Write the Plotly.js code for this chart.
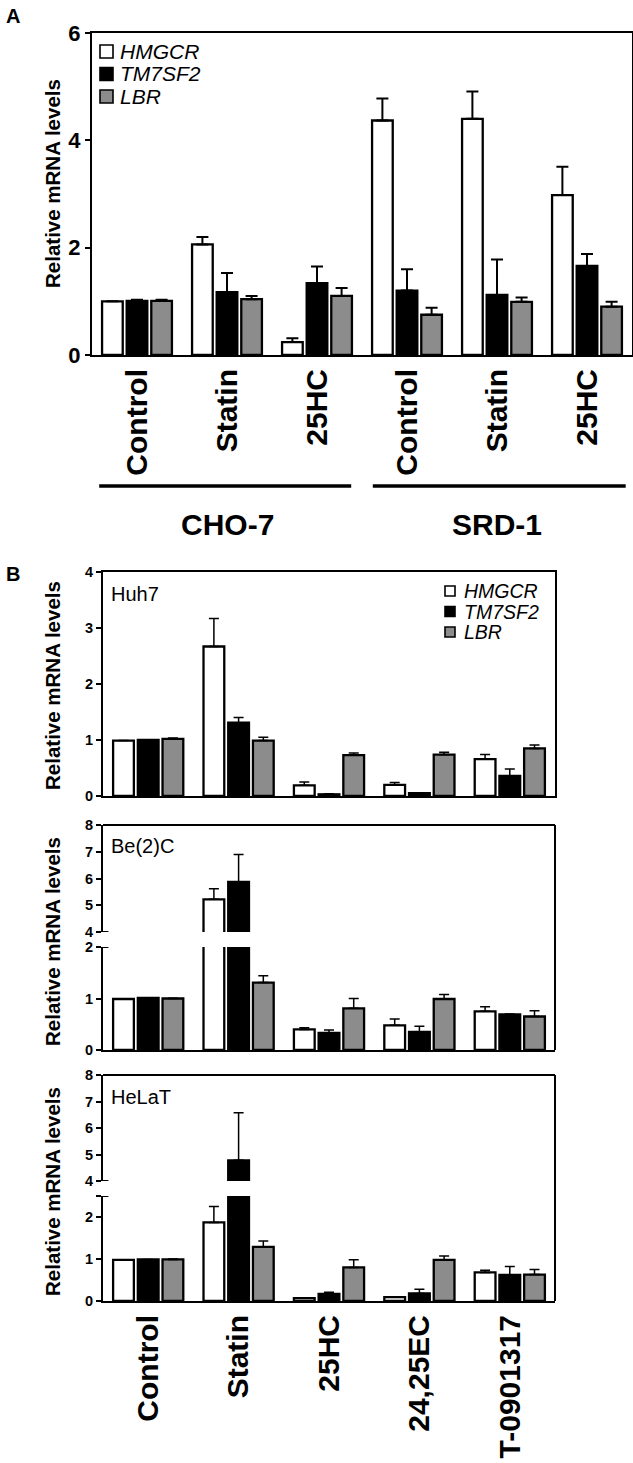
<!DOCTYPE html>
<html><head><meta charset="utf-8">
<script src="https://cdn.plot.ly/plotly-3.0.1.min.js"></script>
<style>html,body{margin:0;padding:0;background:#fff;}#chart{width:633px;height:1463px;}</style>
</head><body><div id="chart"></div>
<script>
// ---------- DATA ----------
const genes = ['HMGCR', 'TM7SF2', 'LBR'];
const geneColors = ['#ffffff', '#000000', '#8c8c8c'];

// Panel A
const cellLinesA = ['CHO-7', 'SRD-1'];
const treatmentsA = ['Control', 'Statin', '25HC'];
const aHMGCR = [1.00, 2.06, 0.24, 4.37, 4.40, 2.98];
const aHMGCRerr = [0.00, 0.14, 0.07, 0.41, 0.51, 0.53];
const aTM7SF2 = [1.01, 1.17, 1.34, 1.20, 1.12, 1.66];
const aTM7SF2err = [0.02, 0.36, 0.31, 0.40, 0.66, 0.22];
const aLBR = [1.01, 1.04, 1.10, 0.75, 0.99, 0.90];
const aLBRerr = [0.02, 0.06, 0.15, 0.13, 0.08, 0.09];

// Panel B
const treatmentsB = ['Control', 'Statin', '25HC', '24,25EC', 'T-0901317'];
const cellLinesB = ['Huh7', 'Be(2)C', 'HeLaT'];
const huhHMGCR = [0.99, 2.67, 0.19, 0.20, 0.66];
const huhHMGCRerr = [0.00, 0.50, 0.06, 0.04, 0.08];
const huhTM7SF2 = [1.00, 1.31, 0.03, 0.05, 0.36];
const huhTM7SF2err = [0.00, 0.09, 0.01, 0.01, 0.12];
const huhLBR = [1.02, 0.99, 0.73, 0.74, 0.85];
const huhLBRerr = [0.015, 0.06, 0.04, 0.04, 0.06];

const beHMGCR = [0.99, 5.22, 0.40, 0.48, 0.75];
const beHMGCRerr = [0.00, 0.40, 0.03, 0.12, 0.09];
const beTM7SF2 = [1.01, 5.87, 0.33, 0.35, 0.69];
const beTM7SF2err = [0.005, 1.03, 0.06, 0.11, 0.01];
const beLBR = [1.00, 1.31, 0.81, 0.99, 0.65];
const beLBRerr = [0.005, 0.13, 0.19, 0.09, 0.11];

const helaHMGCR = [0.98, 1.87, 0.07, 0.09, 0.68];
const helaHMGCRerr = [0.00, 0.38, 0.01, 0.01, 0.05];
const helaTM7SF2 = [0.99, 4.78, 0.17, 0.18, 0.62];
const helaTM7SF2err = [0.00, 1.80, 0.04, 0.10, 0.20];
const helaLBR = [0.99, 1.29, 0.80, 0.98, 0.63];
const helaLBRerr = [0.01, 0.14, 0.18, 0.09, 0.12];

// ---------- LAYOUT HELPERS ----------
const W = 633, H = 1463;
const px = v => v / W;
const py = v => 1 - v / H;
const FONT = 'Liberation Sans, Arial, Helvetica, sans-serif';

const labelsA = cellLinesA.flatMap(() => treatmentsA);
const idxA = labelsA.map((_, i) => i);
const idxB = treatmentsB.map((_, i) => i);

function zeros(n) { return new Array(n).fill(0); }

function barTrace(xs, ys, errs, gi, xa, ya, capW, thick) {
  return {
    type: 'bar', x: xs, y: ys, name: genes[gi],
    xaxis: xa, yaxis: ya, showlegend: false,
    marker: { color: geneColors[gi], line: { color: '#000', width: 2.3 } },
    error_y: { type: 'data', symmetric: false, array: errs, arrayminus: zeros(errs.length),
               color: '#000', thickness: thick, width: capW },
    hoverinfo: 'skip'
  };
}

const data = [];
const aSets = [[aHMGCR, aHMGCRerr], [aTM7SF2, aTM7SF2err], [aLBR, aLBRerr]];
aSets.forEach((s, g) => data.push(barTrace(idxA, s[0], s[1], g, 'x', 'y', 6, 2)));

const huhSets = [[huhHMGCR, huhHMGCRerr], [huhTM7SF2, huhTM7SF2err], [huhLBR, huhLBRerr]];
huhSets.forEach((s, g) => data.push(barTrace(idxB, s[0], s[1], g, 'x2', 'y2', 5, 1.5)));

const beSets = [[beHMGCR, beHMGCRerr], [beTM7SF2, beTM7SF2err], [beLBR, beLBRerr]];
beSets.forEach((s, g) => data.push(barTrace(idxB, s[0], s[1], g, 'x3', 'y3', 5, 1.5)));
beSets.forEach((s, g) => data.push(barTrace(idxB, s[0], s[1], g, 'x3', 'y4', 5, 1.5)));

const helaSets = [[helaHMGCR, helaHMGCRerr], [helaTM7SF2, helaTM7SF2err], [helaLBR, helaLBRerr]];
helaSets.forEach((s, g) => data.push(barTrace(idxB, s[0], s[1], g, 'x4', 'y5', 5, 1.5)));
helaSets.forEach((s, g) => data.push(barTrace(idxB, s[0], s[1], g, 'x4', 'y6', 5, 1.5)));

// pixel geometry of panels
const A = { l: 92, r: 632, t: 33, b: 355 };
const B = { l: 103, r: 555 };
const HUH = { t: 572, b: 796 };
const BE = { lowB: 1050, lowT: 947, upB: 932, upT: 825 };
const HE = { lowB: 1301, lowT: 1196, upB: 1181, upT: 1075 };

const tickFontA = { family: FONT, size: 22, color: '#000', weight: 700 };
const tickFontB = { family: FONT, size: 14.5, color: '#000', weight: 700 };
const catFont = { family: FONT, size: 30, color: '#000', weight: 700 };

function yAx(domain, range, tickvals, ticktext, font, anchor, mirror) {
  return {
    domain: domain, range: range, anchor: anchor, tickvals: tickvals,
    ticktext: ticktext.map(t => t ? '<b>' + t + '</b>' : ''),
    ticks: 'outside', ticklen: 5, tickwidth: 2, tickcolor: '#000',
    showline: true, linewidth: 2, linecolor: '#000', mirror: mirror,
    showgrid: false, zeroline: false, tickfont: font, fixedrange: true
  };
}
function xAx(domain, range, anchor, tickvals, ticktext, showlabels, mirror) {
  return {
    domain: domain, range: range, anchor: anchor, tickvals: tickvals, ticktext: ticktext,
    showticklabels: showlabels, tickangle: -90, tickfont: catFont, ticks: '',
    showline: true, linewidth: 2, linecolor: '#000', mirror: mirror,
    showgrid: false, zeroline: false, fixedrange: true
  };
}

const domXA = [px(A.l), px(A.r)];
const domXB = [px(B.l), px(B.r)];

function breakMark(xref, yref, yv) {
  return { type: 'line', xref: xref + ' domain', yref: yref, x0: -0.012, x1: 0.012, y0: yv, y1: yv, line: { color: '#000', width: 2 } };
}

// custom legends (icon box + italic label)
function legendItems(x0, yc, step, size, fontSize, textGap) {
  const shapes = [], anns = [];
  genes.forEach((g, i) => {
    const cy = yc + i * step;
    shapes.push({ type: 'rect', xref: 'paper', yref: 'paper',
      x0: px(x0), x1: px(x0 + size), y0: py(cy + size / 2), y1: py(cy - size / 2),
      fillcolor: geneColors[i], line: { color: '#000', width: 1.6 } });
    anns.push({ text: '<i>' + g + '</i>', xref: 'paper', yref: 'paper',
      x: px(x0 + size + textGap), y: py(cy), xanchor: 'left', yanchor: 'middle',
      showarrow: false, font: { family: FONT, size: fontSize, color: '#000' } });
  });
  return { shapes, anns };
}
const legA = legendItems(100, 51.5, 22.5, 13, 21, 5);
const legB = legendItems(445, 591, 20.5, 10, 19.5, 7);

const layout = {
  width: W, height: H,
  margin: { l: 0, r: 0, t: 0, b: 0 },
  paper_bgcolor: '#fff', plot_bgcolor: 'rgba(0,0,0,0)',
  font: { family: FONT, color: '#000' },
  showlegend: false,
  barmode: 'group', bargap: 0.18, bargroupgap: 0.16,
  xaxis: xAx(domXA, [-0.5, 5.5], 'y', idxA, labelsA, true, true),
  yaxis: yAx([py(A.b), py(A.t)], [0, 6], [0, 2, 4, 6], ['0', '2', '4', '6'], tickFontA, 'x', true),
  xaxis2: xAx(domXB, [-0.5, 4.5], 'y2', idxB, treatmentsB, false, true),
  yaxis2: yAx([py(HUH.b), py(HUH.t)], [0, 4], [0, 1, 2, 3, 4], ['0', '1', '2', '3', '4'], tickFontB, 'x2', true),
  xaxis3: xAx(domXB, [-0.5, 4.5], 'y3', idxB, treatmentsB, false, false),
  yaxis3: yAx([py(BE.lowB), py(BE.lowT)], [0, 2], [0, 1, 2], ['0', '1', '2'], tickFontB, 'x3', false),
  yaxis4: yAx([py(BE.upB), py(BE.upT)], [4, 8], [4, 5, 6, 7, 8], ['4', '5', '6', '7', '8'], tickFontB, 'x3', false),
  xaxis4: xAx(domXB, [-0.5, 4.5], 'y5', idxB, treatmentsB, true, false),
  yaxis5: yAx([py(HE.lowB), py(HE.lowT)], [0, 2.5], [0, 1, 2, 2.5], ['0', '1', '2', ''], tickFontB, 'x4', false),
  yaxis6: yAx([py(HE.upB), py(HE.upT)], [4, 8], [4, 5, 6, 7, 8], ['4', '5', '6', '7', '8'], tickFontB, 'x4', false),
  shapes: [
    // group underlines in panel A
    { type: 'line', xref: 'x', yref: 'paper', x0: -0.42, x1: 2.38, y0: py(486), y1: py(486), line: { color: '#000', width: 3.5 } },
    { type: 'line', xref: 'x', yref: 'paper', x0: 2.62, x1: 5.43, y0: py(486), y1: py(486), line: { color: '#000', width: 3.5 } },
    // Be(2)C frame (top + right)
    { type: 'line', xref: 'paper', yref: 'paper', x0: px(B.l), x1: px(B.r), y0: py(BE.upT), y1: py(BE.upT), line: { color: '#000', width: 2 } },
    { type: 'line', xref: 'paper', yref: 'paper', x0: px(B.r), x1: px(B.r), y0: py(BE.upT), y1: py(BE.lowB), line: { color: '#000', width: 2 } },
    // HeLaT frame (top + right)
    { type: 'line', xref: 'paper', yref: 'paper', x0: px(B.l), x1: px(B.r), y0: py(HE.upT), y1: py(HE.upT), line: { color: '#000', width: 2 } },
    { type: 'line', xref: 'paper', yref: 'paper', x0: px(B.r), x1: px(B.r), y0: py(HE.upT), y1: py(HE.lowB), line: { color: '#000', width: 2 } },
    // axis-break serifs
    breakMark('x3', 'y4', 4), breakMark('x3', 'y3', 2),
    breakMark('x4', 'y6', 4), breakMark('x4', 'y5', 2.5)
  ].concat(legA.shapes, legB.shapes),
  annotations: [
    { text: '<b>A</b>', xref: 'paper', yref: 'paper', x: px(4), y: py(3), xanchor: 'left', yanchor: 'top', showarrow: false, font: { family: FONT, size: 20 } },
    { text: '<b>B</b>', xref: 'paper', yref: 'paper', x: px(4), y: py(561), xanchor: 'left', yanchor: 'top', showarrow: false, font: { family: FONT, size: 20 } },
    { text: '<b>Relative mRNA levels</b>', xref: 'paper', yref: 'paper', x: px(52), y: py(184), xanchor: 'center', yanchor: 'middle', textangle: -90, showarrow: false, font: { family: FONT, size: 20.5 } },
    { text: '<b>Relative mRNA levels</b>', xref: 'paper', yref: 'paper', x: px(52), y: py(686), xanchor: 'center', yanchor: 'middle', textangle: -90, showarrow: false, font: { family: FONT, size: 20.5 } },
    { text: '<b>Relative mRNA levels</b>', xref: 'paper', yref: 'paper', x: px(52), y: py(942), xanchor: 'center', yanchor: 'middle', textangle: -90, showarrow: false, font: { family: FONT, size: 20.5 } },
    { text: '<b>Relative mRNA levels</b>', xref: 'paper', yref: 'paper', x: px(52), y: py(1192), xanchor: 'center', yanchor: 'middle', textangle: -90, showarrow: false, font: { family: FONT, size: 20.5 } },
    { text: '<b>' + cellLinesA[0] + '</b>', xref: 'x', yref: 'paper', x: 1, y: py(524), xanchor: 'center', yanchor: 'middle', showarrow: false, font: { family: FONT, size: 30 } },
    { text: '<b>' + cellLinesA[1] + '</b>', xref: 'x', yref: 'paper', x: 4, y: py(524), xanchor: 'center', yanchor: 'middle', showarrow: false, font: { family: FONT, size: 30 } },
    { text: cellLinesB[0], xref: 'paper', yref: 'paper', x: px(109), y: py(581), xanchor: 'left', yanchor: 'top', showarrow: false, font: { family: FONT, size: 20 } },
    { text: cellLinesB[1], xref: 'paper', yref: 'paper', x: px(109), y: py(833), xanchor: 'left', yanchor: 'top', showarrow: false, font: { family: FONT, size: 20 } },
    { text: cellLinesB[2], xref: 'paper', yref: 'paper', x: px(109), y: py(1084), xanchor: 'left', yanchor: 'top', showarrow: false, font: { family: FONT, size: 20 } }
  ].concat(legA.anns, legB.anns)
};

Plotly.newPlot('chart', data, layout, { staticPlot: true, displayModeBar: false });
</script>
</body></html>
